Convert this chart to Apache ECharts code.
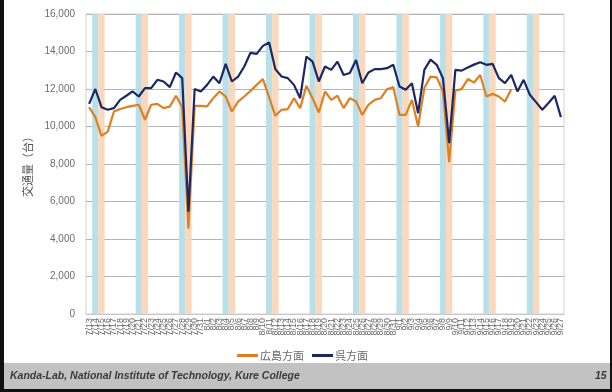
<!DOCTYPE html>
<html>
<head>
<meta charset="utf-8">
<script src="https://cdn.jsdelivr.net/npm/echarts@6/dist/echarts.min.js"></script>
<style>
  html, body { margin: 0; padding: 0; background: #fff; }
  #chart { width: 612px; height: 392px; }
</style>
</head>
<body>
<div id="chart"></div>
<script>
// Daily traffic volume, 2018-07-13 .. 2018-09-27
var dates = [
  '7/13','7/14','7/15','7/16','7/17','7/18','7/19','7/20','7/21','7/22','7/23','7/24','7/25','7/26','7/27','7/28','7/29','7/30','7/31',
  '8/1','8/2','8/3','8/4','8/5','8/6','8/7','8/8','8/9','8/10','8/11','8/12','8/13','8/14','8/15','8/16','8/17','8/18','8/19','8/20',
  '8/21','8/22','8/23','8/24','8/25','8/26','8/27','8/28','8/29','8/30','8/31',
  '9/1','9/2','9/3','9/4','9/5','9/6','9/7','9/8','9/9','9/10','9/11','9/12','9/13','9/14','9/15','9/16','9/17','9/18','9/19','9/20',
  '9/21','9/22','9/23','9/24','9/25','9/26','9/27'
];

// 広島方面 (toward Hiroshima)
var hiroshima = [
  11030, 10500, 9500, 9730, 10800, 10930, 11030, 11100, 11160, 10360,
  11160, 11210, 10980, 11070, 11640, 11030, 4550, 11100, 11100, 11070,
  11510, 11870, 11600, 10800, 11330, 11600, 11900, 12220, 12530, 11550,
  10570, 10890, 10930, 11510, 10980, 12170, 11510, 10750, 11870, 11420,
  11640, 10980, 11510, 11330, 10620, 11160, 11420, 11510, 11990, 12100,
  10620, 10620, 11420, 10000, 12050, 12660, 12620, 11870, 8100, 11920,
  11990, 12530, 12350, 12750, 11600, 11740, 11600, 11330, 11990
];

// 呉方面 (toward Kure)
var kure = [
  11210, 12000, 11030, 10890, 10980, 11420, 11640, 11870, 11600, 12050,
  12050, 12490, 12400, 12100, 12880, 12580, 5450, 12000, 11870, 12220,
  12660, 12310, 13340, 12400, 12660, 13200, 13930, 13870, 14300, 14480,
  13060, 12670, 12580, 12220, 11510, 13730, 13460, 12400, 13200, 13020,
  13460, 12750, 12850, 13550, 12310, 12880, 13060, 13060, 13110, 13290,
  12130, 11960, 12310, 10710, 13020, 13570, 13290, 12580, 9110, 13020,
  12980, 13150, 13300, 13430, 13290, 13340, 12580, 12310, 12750, 11870,
  12490, 11690, 11300, 10890, 11250, 11640, 10500
];

// Weekend days, shaded across the full plot height
var saturdays = ['7/14','7/21','7/28','8/4','8/11','8/18','8/25','9/1','9/8','9/15','9/22'];
var sundays   = ['7/15','7/22','7/29','8/5','8/12','8/19','8/26','9/2','9/9','9/16','9/23'];

var yTicks = { min: 0, max: 16000, interval: 2000 };

function bandData(days) {
  return dates.map(function (d) { return days.indexOf(d) >= 0 ? yTicks.max : '-'; });
}

var chart = echarts.init(document.getElementById('chart'), null, { renderer: 'canvas' });

var labelColor = '#6b6b6b';
var uiFont = '"Liberation Sans", "Noto Sans", sans-serif';
var cjkFont = '"Noto Sans CJK JP", "Noto Sans", sans-serif';

chart.setOption({
  animation: false,
  backgroundColor: '#ffffff',
  grid: { left: 86, right: 48, top: 14, bottom: 78, show: true, borderColor: '#d0d0d0', borderWidth: 1, backgroundColor: 'transparent' },
  legend: {
    data: ['広島方面', '呉方面'],
    left: 232, top: 345,
    icon: 'rect', itemWidth: 21, itemHeight: 3, itemGap: 8,
    textStyle: { fontFamily: cjkFont, fontSize: 11, color: '#6b6b6b', padding: [0, 0, 0, -3] }
  },
  xAxis: {
    type: 'category',
    data: dates,
    boundaryGap: true,
    axisLine: { show: true, lineStyle: { color: '#c8c8c8', width: 1 } },
    axisTick: { show: false },
    axisLabel: { interval: 0, rotate: 90, fontSize: 9, color: labelColor, fontFamily: uiFont, margin: 4 },
    splitLine: { show: false }
  },
  yAxis: {
    type: 'value',
    min: yTicks.min, max: yTicks.max, interval: yTicks.interval,
    name: '交通量（台）',
    nameLocation: 'middle',
    nameGap: 50,
    nameRotate: 90,
    nameTextStyle: { fontFamily: cjkFont, fontSize: 11, color: '#555555' },
    axisLine: { show: false },
    axisTick: { show: false },
    axisLabel: {
      fontSize: 10, color: labelColor, fontFamily: uiFont, margin: 11,
      formatter: function (v) { return v.toLocaleString('en-US'); }
    },
    splitLine: { show: true, lineStyle: { color: '#b4b4b4', width: 1 } }
  },
  series: [
    {
      name: 'saturday', type: 'bar', data: bandData(saturdays),
      barWidth: '100%', barGap: '-100%', silent: true, z: 1,
      itemStyle: { color: '#b9dfe9' }
    },
    {
      name: 'sunday', type: 'bar', data: bandData(sundays),
      barWidth: '100%', barGap: '-100%', silent: true, z: 1,
      itemStyle: { color: '#fbd7bb' }
    },
    {
      name: '広島方面', type: 'line', data: hiroshima,
      symbol: 'none', z: 3,
      lineStyle: { color: '#e07f22', width: 2.2 },
      itemStyle: { color: '#e07f22' }
    },
    {
      name: '呉方面', type: 'line', data: kure,
      symbol: 'none', z: 4,
      lineStyle: { color: '#1b2864', width: 2.2 },
      itemStyle: { color: '#1b2864' }
    }
  ],
  graphic: [
    // slide footer band
    { type: 'rect', left: 3, top: 363, shape: { width: 607, height: 26 }, style: { fill: '#c2c2c2' }, silent: true },
    { type: 'text', left: 10, top: 371, style: { text: 'Kanda-Lab, National Institute of Technology, Kure College', font: 'italic bold 10.5px "Liberation Sans", sans-serif', fill: '#3a3a3a' } },
    { type: 'text', left: 595, top: 371, style: { text: '15', font: 'italic bold 10.5px "Liberation Sans", sans-serif', fill: '#3a3a3a' } },
    // slide frame edges
    { type: 'rect', left: 0, top: 0, shape: { width: 4, height: 392 }, style: { fill: '#111111' }, silent: true },
    { type: 'rect', left: 0, top: 389, shape: { width: 612, height: 3 }, style: { fill: '#111111' }, silent: true },
    { type: 'rect', left: 610, top: 0, shape: { width: 2, height: 392 }, style: { fill: '#111111' }, silent: true }
  ]
});
</script>
</body>
</html>
